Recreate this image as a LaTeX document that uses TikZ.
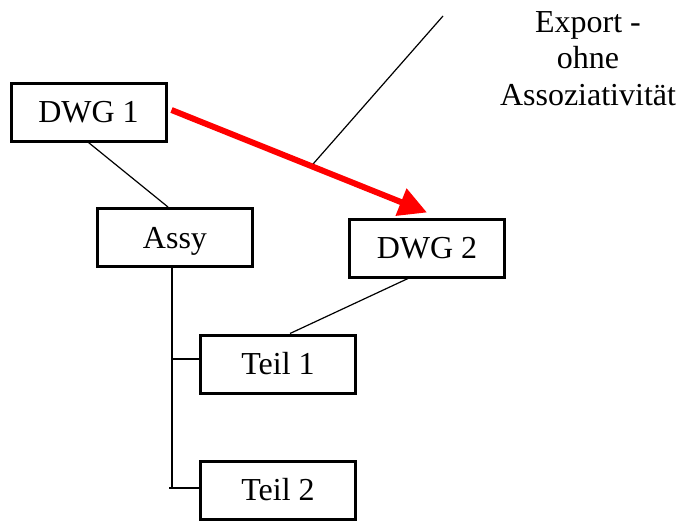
\documentclass[tikz,border=0pt]{standalone}
\usepackage{fontspec}
\setmainfont{Liberation Serif}
\usetikzlibrary{positioning, calc, arrows.meta}

\begin{document}
\begin{tikzpicture}[x=1pt, y=-1pt, node font=\fontsize{32}{36.5}\selectfont,
                    box/.style={draw, line width=3pt, minimum width=155pt, minimum height=58pt, text height=21pt, text depth=0pt},
                    link/.style={line width=1.2pt},
                    export/.style={red, line width=6pt, -{Triangle[length=28pt, width=28pt]}}]
                        \useasboundingbox (0,0) rectangle (683,520);
                        \node[box] (dwg1) at (88.5,112) {DWG 1};
                        \node[box] (assy) at (175,237.5) {Assy};
                        \node[box] (dwg2) at (427,248) {DWG 2};
                        \node[box] (teil1) at (278,364) {Teil 1};
                        \node[box, below=65pt of teil1] (teil2) {Teil 2};
                        \node[align=center, anchor=north, inner sep=0pt] (note) at (588,11) {Export -\\ohne\\Assoziativit\"at};
                        \coordinate (tag) at (443,16);
                        \coordinate (trunk) at ([xshift=-3pt]assy.south);
                        \draw[link] (dwg1.south) -- ([xshift=-7pt]assy.north);
                        \draw[link] ([xshift=-19pt]dwg2.south) -- ([xshift=12pt]teil1.north);
                        \draw[link] (trunk) -- ([yshift=2pt]trunk |- teil2.west);
                        \draw[link] ([yshift=5pt]trunk |- teil1.west) -- ([yshift=5pt]teil1.west);
                        \draw[link] ([xshift=-3pt, yshift=2pt]trunk |- teil2.west) -- ([yshift=2pt]teil2.west);
                        \path ([xshift=4pt, yshift=2pt]dwg1.east) -- ([yshift=5pt]dwg2.north) coordinate[pos=0.547] (hit);
                        \draw[link] (tag) -- (hit);
                        \draw[export] ([xshift=4pt, yshift=2pt]dwg1.east) -- ([yshift=5pt]dwg2.north);
                    \end{tikzpicture}
\end{document}
